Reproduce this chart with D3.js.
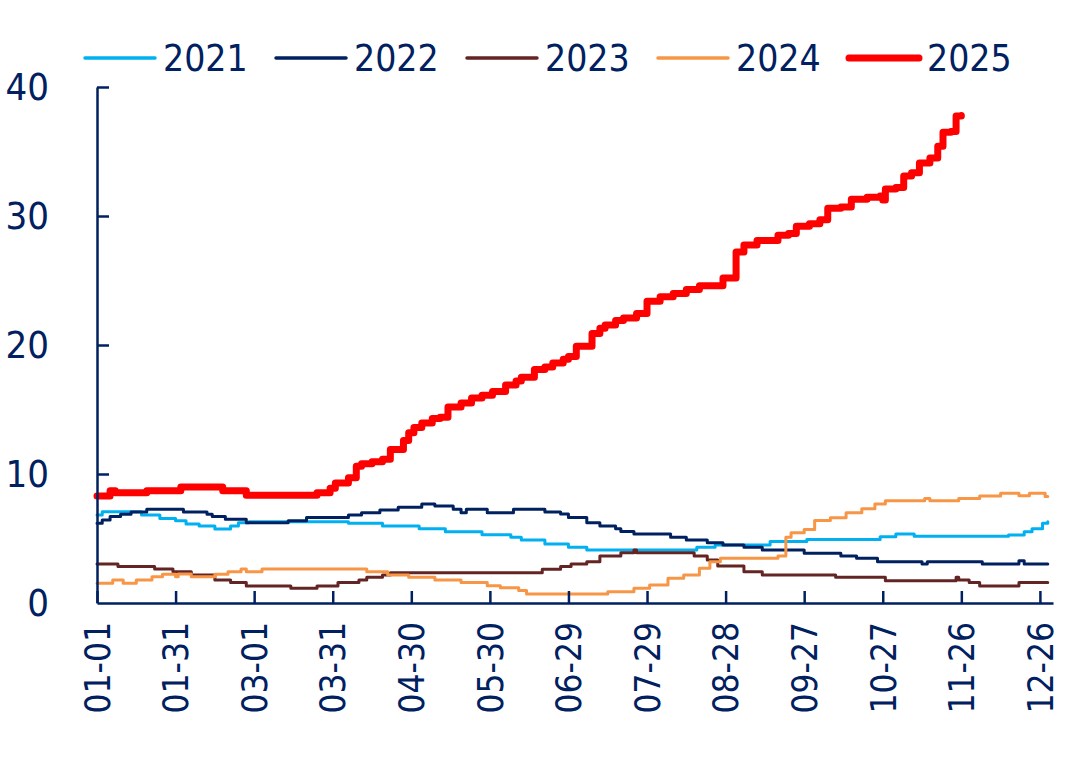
<!DOCTYPE html>
<html>
<head>
<meta charset="utf-8">
<title>2021-2025</title>
<script src="https://d3js.org/d3.v7.min.js"></script>
<style>
body{margin:0;background:#fff;}
.chart text{font-family:"DejaVu Sans Condensed","DejaVu Sans",sans-serif;fill:#002060;}
</style>
</head>
<body>
<svg class="chart"></svg>
<script>
// day index counted from 01-01 (366-day calendar), value at start of each plateau
var years=["2021","2022","2023","2024","2025"];
var colors=["#00b0f0","#002060","#632523","#f79646","#ff0000"];

var days2021=[0,2,17,24,30,34,39,45,51,54,58,96,109,123,133,147,158,162,171,180,187,229,236,257,271,299,305,312,348,354,357,361,363];
var vals2021=[6.82,7.08,6.82,6.56,6.38,6.12,5.97,5.74,5.97,6.23,6.3,6.18,5.97,5.76,5.53,5.3,5.09,4.88,4.57,4.32,4.11,4.32,4.5,4.76,4.93,5.14,5.35,5.17,5.27,5.53,5.76,6.18,6.3];

var days2022=[0,2,5,9,13,19,33,42,44,49,57,73,80,96,101,108,115,124,129,136,139,141,149,159,171,177,180,187,192,198,200,205,219,225,233,239,247,254,270,284,290,298,315,317,338,352,354,363];
var vals2022=[6.18,6.44,6.7,6.88,7.06,7.26,7.06,6.88,6.7,6.49,6.23,6.38,6.62,6.82,7.0,7.21,7.42,7.67,7.52,7.26,7.0,7.26,7.0,7.26,7.06,6.9,6.62,6.23,5.97,5.76,5.55,5.35,5.09,4.88,4.68,4.5,4.32,4.11,3.85,3.65,3.46,3.2,3.02,3.2,3.02,3.28,3.02,3.02];

var days2023=[0,8,22,29,36,45,51,57,74,84,92,100,103,109,112,170,177,181,187,192,200,205,206,228,233,237,247,254,282,301,328,329,333,337,352,363];
var vals2023=[3.02,2.82,2.64,2.43,2.17,1.78,1.58,1.32,1.14,1.32,1.58,1.78,1.99,2.17,2.35,2.61,2.82,3.02,3.2,3.65,3.9,4.1,3.9,3.65,3.33,2.87,2.43,2.17,1.99,1.73,1.99,1.78,1.58,1.32,1.58,1.58];

var days2024=[0,6,10,15,21,25,30,31,36,45,50,55,57,63,103,111,119,129,139,149,154,161,164,195,205,211,218,224,230,234,238,260,263,265,270,274,280,286,292,297,301,316,318,329,337,345,352,356,362,363];
var vals2024=[1.53,1.78,1.53,1.78,2.04,2.22,2.04,2.25,2.04,2.22,2.43,2.64,2.43,2.64,2.43,2.17,1.99,1.78,1.58,1.34,1.19,0.96,0.7,0.88,1.14,1.4,1.91,2.17,2.69,3.2,3.46,3.65,5.1,5.45,5.7,6.4,6.6,7.0,7.3,7.67,7.93,8.1,7.93,8.1,8.29,8.5,8.32,8.5,8.25,8.25];

var days2025=[0,5,7,19,32,48,57,84,89,91,96,99,101,105,109,112,117,119,121,124,128,131,134,139,143,147,151,156,160,162,167,171,174,178,180,183,189,192,194,198,201,206,210,215,220,225,230,239,244,247,252,260,264,267,272,276,279,284,288,294,299,300,301,305,308,311,314,318,321,323,326,328,330];
var vals2025=[8.3,8.7,8.55,8.7,9.0,8.7,8.35,8.55,8.9,9.3,9.7,10.6,10.8,10.95,11.15,11.9,12.6,13.2,13.6,13.95,14.3,14.4,15.2,15.5,15.9,16.1,16.4,16.9,17.2,17.5,18.1,18.3,18.6,18.9,19.1,19.9,20.9,21.3,21.55,21.9,22.1,22.45,23.4,23.75,24.0,24.3,24.6,25.2,27.2,27.75,28.1,28.5,28.65,29.2,29.4,29.7,30.6,30.7,31.3,31.45,31.55,31.25,32.1,32.2,33.1,33.35,34.1,34.5,35.4,36.5,36.55,37.75,37.8];

var xTickDays=[0,30,60,90,120,150,180,210,240,270,300,330,360];
var xTickLabels=["01-01","01-31","03-01","03-31","04-30","05-30","06-29","07-29","08-28","09-27","10-27","11-26","12-26"];
var yTicks=[0,10,20,30,40];

var allDays=[days2021,days2022,days2023,days2024,days2025];
var allVals=[vals2021,vals2022,vals2023,vals2024,vals2025];

var width=1080,height=770;
var axisColor="#002060";

var svg=d3.select(".chart").attr("width",width).attr("height",height);

var x=d3.scaleLinear().domain([0,365]).range([97,1053]);
var y=d3.scaleLinear().domain([0,40]).range([603,87]);

// series
var series=years.map(function(yr,i){
	return {
		year:yr,
		color:colors[i],
		width: i==4 ? 7 : 3,
		points:allDays[i].map(function(d,j){return [d,allVals[i][j]];})
	};
});

var line=d3.line()
	.x(function(d){return x(d[0]);})
	.y(function(d){return y(d[1]);})
	.curve(d3.curveStepAfter);

svg.append("g").attr("class","lines")
	.selectAll("path").data(series).enter()
	.append("path")
	.attr("d",function(d){return line(d.points);})
	.attr("fill","none")
	.attr("stroke",function(d){return d.color;})
	.attr("stroke-width",function(d){return d.width;})
	.attr("stroke-linejoin","round")
	.attr("stroke-linecap","round");

// axes
var xAxis=d3.axisBottom(x)
	.tickValues(xTickDays)
	.tickFormat(function(d,i){return xTickLabels[i];})
	.tickSizeInner(-12)
	.tickSizeOuter(0);

var gx=svg.append("g").attr("transform","translate(0,"+y(0)+")").call(xAxis);
gx.select(".domain").attr("stroke",axisColor).attr("stroke-width",2.5);
gx.selectAll(".tick line").attr("stroke",axisColor).attr("stroke-width",2.5);
gx.selectAll(".tick text")
	.attr("font-size","35px")
	.attr("fill",axisColor)
	.attr("text-anchor","end")
	.attr("x",0).attr("y",0).attr("dy","0.35em")
	.attr("transform","translate(0,19) rotate(-90)");

var yAxis=d3.axisLeft(y)
	.tickValues(yTicks)
	.tickSizeInner(-12)
	.tickSizeOuter(0)
	.tickPadding(48);

var gy=svg.append("g").attr("transform","translate("+x(0)+",0)").call(yAxis);
gy.select(".domain").attr("stroke",axisColor).attr("stroke-width",2.5);
gy.selectAll(".tick line").attr("stroke",axisColor).attr("stroke-width",2.5);
gy.selectAll(".tick text").attr("font-size","38px").attr("fill",axisColor);
gy.selectAll(".tick").filter(function(d){return d==0;}).select("line").remove();

// legend
var legend=svg.append("g").attr("class","legend")
	.selectAll("g").data(series).enter()
	.append("g")
	.attr("transform",function(d,i){return "translate("+(85+i*191)+",58)";});

legend.append("line")
	.attr("x1",0).attr("x2",70)
	.attr("y1",0).attr("y2",0)
	.attr("stroke",function(d){return d.color;})
	.attr("stroke-width",function(d){return d.width==7 ? 7 : 3.5;})
	.attr("stroke-linecap","round");

legend.append("text")
	.attr("x",78)
	.attr("dy","0.36em")
	.attr("font-size","37px")
	.text(function(d){return d.year;});
</script>
</body>
</html>
